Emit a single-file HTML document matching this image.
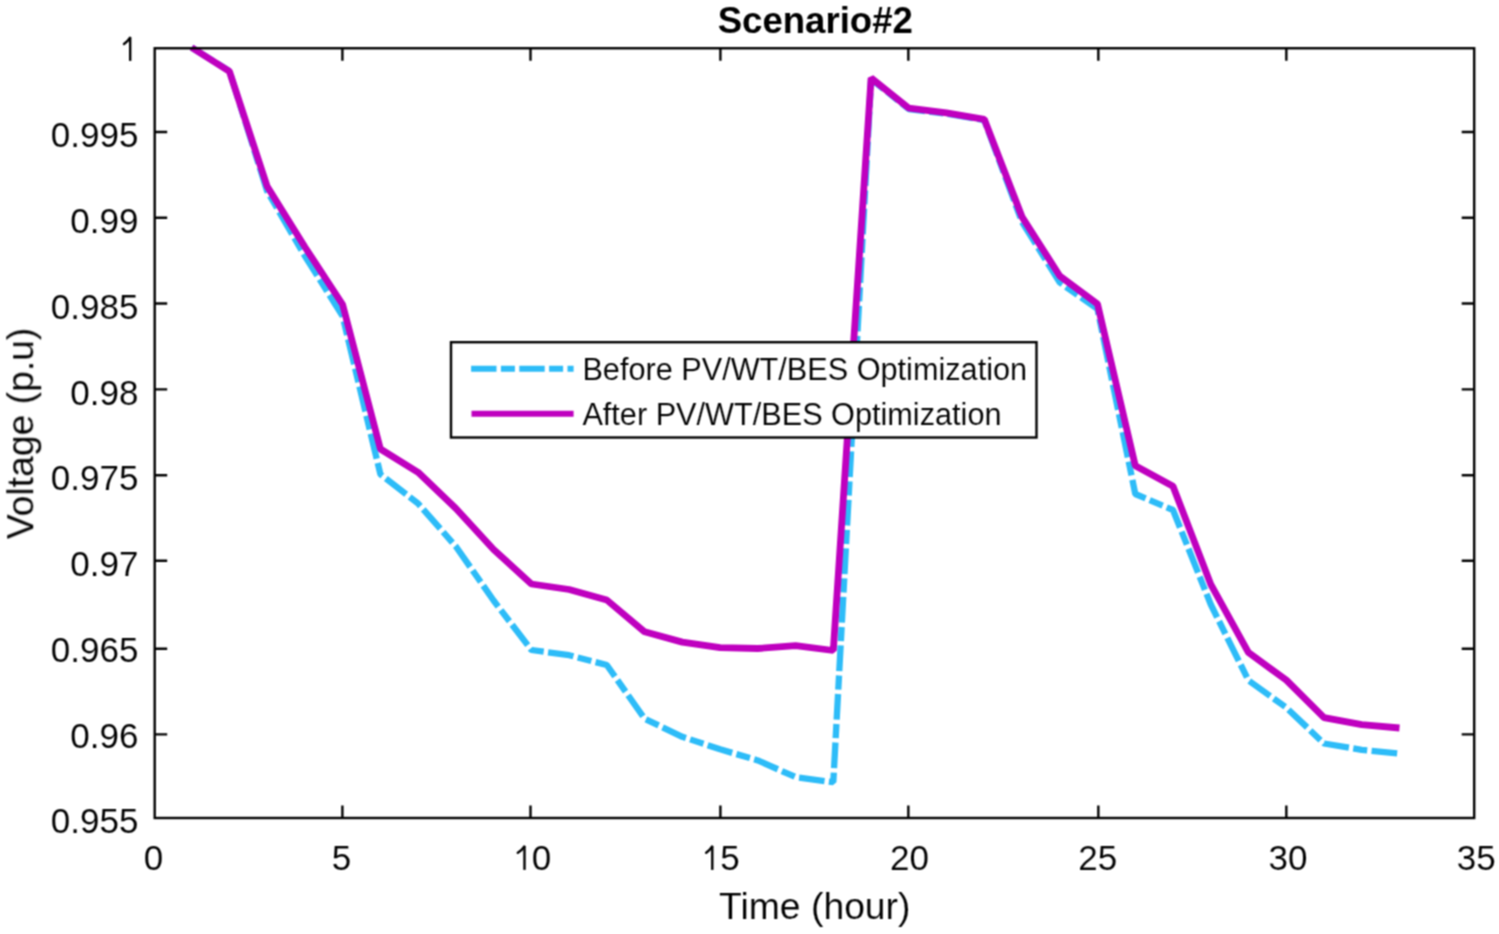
<!DOCTYPE html>
<html><head><meta charset="utf-8"><title>Scenario#2</title>
<style>html,body{margin:0;padding:0;background:#fff;width:1499px;height:934px;overflow:hidden}svg{display:block;will-change:transform}</style>
</head><body>
<svg width="1499" height="934" viewBox="0 0 1499 934">
<defs><filter id="soft" x="0" y="0" width="1499" height="934" filterUnits="userSpaceOnUse" color-interpolation-filters="sRGB"><feConvolveMatrix order="3" kernelMatrix="1 2 1 2 4 2 1 2 1" divisor="16" edgeMode="duplicate"/></filter></defs>
<g filter="url(#soft)">
<rect width="1499" height="934" fill="#fff"/>
<polyline points="191.6,47.5 229.4,71.0 267.1,191.0 304.9,256.0 342.6,316.0 380.4,474.3 418.1,503.5 455.9,546.5 493.6,600.5 531.4,650.0 569.1,655.2 606.8,665.0 644.6,718.7 682.3,736.8 720.1,749.3 757.8,760.4 795.6,777.1 833.3,782.2 871.1,79.0 908.8,109.0 946.5,113.7 984.3,120.2 1022.0,222.0 1059.8,282.5 1097.5,309.0 1135.3,494.0 1173.0,510.0 1210.8,604.5 1248.5,680.5 1286.2,707.5 1324.0,743.5 1361.7,749.9 1399.5,753.5" fill="none" stroke="#2dbcf8" stroke-width="6.3" stroke-linejoin="bevel" stroke-dasharray="25.7 4.4 14.1 4.4"/>
<polyline points="191.6,47.5 229.4,71.4 267.1,186.3 304.9,247.0 342.6,304.5 380.4,449.0 418.1,472.3 455.9,508.5 493.6,549.5 531.4,584.0 569.1,589.5 606.8,600.0 644.6,631.8 682.3,642.1 720.1,647.7 757.8,648.5 795.6,645.7 833.3,650.5 871.1,78.0 908.8,108.2 946.5,112.9 984.3,119.3 1022.0,216.8 1059.8,276.0 1097.5,304.0 1135.3,465.8 1173.0,486.2 1210.8,584.4 1248.5,652.6 1286.2,680.0 1324.0,717.6 1361.7,724.6 1399.5,728.0" fill="none" stroke="#bf00bf" stroke-width="6.8" stroke-linejoin="bevel"/>
<rect x="154.7" y="48.25" width="1319.50" height="769.75" fill="none" stroke="#000" stroke-width="2.4"/>
<path d="M154.7,132.0h12.5M1474.2,132.0h-12.5M154.7,217.7h12.5M1474.2,217.7h-12.5M154.7,303.5h12.5M1474.2,303.5h-12.5M154.7,389.4h12.5M1474.2,389.4h-12.5M154.7,475.2h12.5M1474.2,475.2h-12.5M154.7,560.8h12.5M1474.2,560.8h-12.5M154.7,648.7h12.5M1474.2,648.7h-12.5M154.7,734.4h12.5M1474.2,734.4h-12.5M342.4,818.0v-12.5M342.4,48.25v12.5M530.5,818.0v-12.5M530.5,48.25v12.5M720.4,818.0v-12.5M720.4,48.25v12.5M908.35,818.0v-12.5M908.35,48.25v12.5M1098.35,818.0v-12.5M1098.35,48.25v12.5M1286.35,818.0v-12.5M1286.35,48.25v12.5" stroke="#000" stroke-width="2.4" fill="none"/>
<g font-family="'Liberation Sans', sans-serif" font-size="35.0" fill="#000" stroke="#fff" stroke-width="0.1">
<text x="138.4" y="147.14" text-anchor="end">0.995</text>
<text x="138.4" y="232.93" text-anchor="end">0.99</text>
<text x="138.4" y="318.72" text-anchor="end">0.985</text>
<text x="138.4" y="404.51" text-anchor="end">0.98</text>
<text x="138.4" y="490.30" text-anchor="end">0.975</text>
<text x="138.4" y="576.09" text-anchor="end">0.97</text>
<text x="138.4" y="661.88" text-anchor="end">0.965</text>
<text x="138.4" y="747.67" text-anchor="end">0.96</text>
<text x="138.4" y="833.46" text-anchor="end">0.955</text>
<text x="153.40" y="869.6" text-anchor="middle">0</text>
<text x="341.40" y="869.6" text-anchor="middle">5</text>
<text x="909.50" y="869.6" text-anchor="middle">20</text>
<text x="1097.70" y="869.6" text-anchor="middle">25</text>
<text x="1288.05" y="869.6" text-anchor="middle">30</text>
<text x="1476.25" y="869.6" text-anchor="middle">35</text>
<text x="531.65" y="869.6">0</text>
<text x="720.30" y="869.6">5</text>
</g>
<path d="M130.20,60.90V37.20" stroke="#000" stroke-width="2.4" fill="none"/><path d="M129.90,37.80Q127.70,41.40 124.00,44.00" stroke="#000" stroke-width="2.4" fill="none" stroke-linecap="round"/>
<path d="M524.50,869.90V846.00" stroke="#000" stroke-width="2.4" fill="none"/><path d="M524.20,846.60Q522.00,850.20 517.80,852.80" stroke="#000" stroke-width="2.4" fill="none" stroke-linecap="round"/>
<path d="M712.30,869.90V846.00" stroke="#000" stroke-width="2.4" fill="none"/><path d="M712.00,846.60Q709.80,850.20 706.20,852.80" stroke="#000" stroke-width="2.4" fill="none" stroke-linecap="round"/>
<g font-family="'Liberation Sans', sans-serif" font-size="37.3" fill="#000" stroke="#fff" stroke-width="0.1">
<text x="814.8" y="918.7" text-anchor="middle">Time (hour)</text>
<text transform="translate(33.2,433.4) rotate(-90)" text-anchor="middle">Voltage (p.u)</text>
</g>
<text x="815.3" y="33.0" text-anchor="middle" font-family="'Liberation Sans', sans-serif" font-size="36.6" font-weight="bold">Scenario#2</text>
<rect x="451" y="342.2" width="585.5" height="95.3" fill="#fff" stroke="#000" stroke-width="2.4"/>
<line x1="471.1" y1="368.8" x2="573.6" y2="368.8" stroke="#2dbcf8" stroke-width="6" stroke-dasharray="25.4 4.4 14 4.4"/>
<line x1="471.5" y1="413.8" x2="573.6" y2="413.8" stroke="#bf00bf" stroke-width="6"/>
<g font-family="'Liberation Sans', sans-serif" font-size="30.67" fill="#000" stroke="#fff" stroke-width="0.1">
<text x="582.4" y="379.6">Before PV/WT/BES Optimization</text>
<text x="582.4" y="424.7">After PV/WT/BES Optimization</text>
</g>
</g>
</svg>
</body></html>
